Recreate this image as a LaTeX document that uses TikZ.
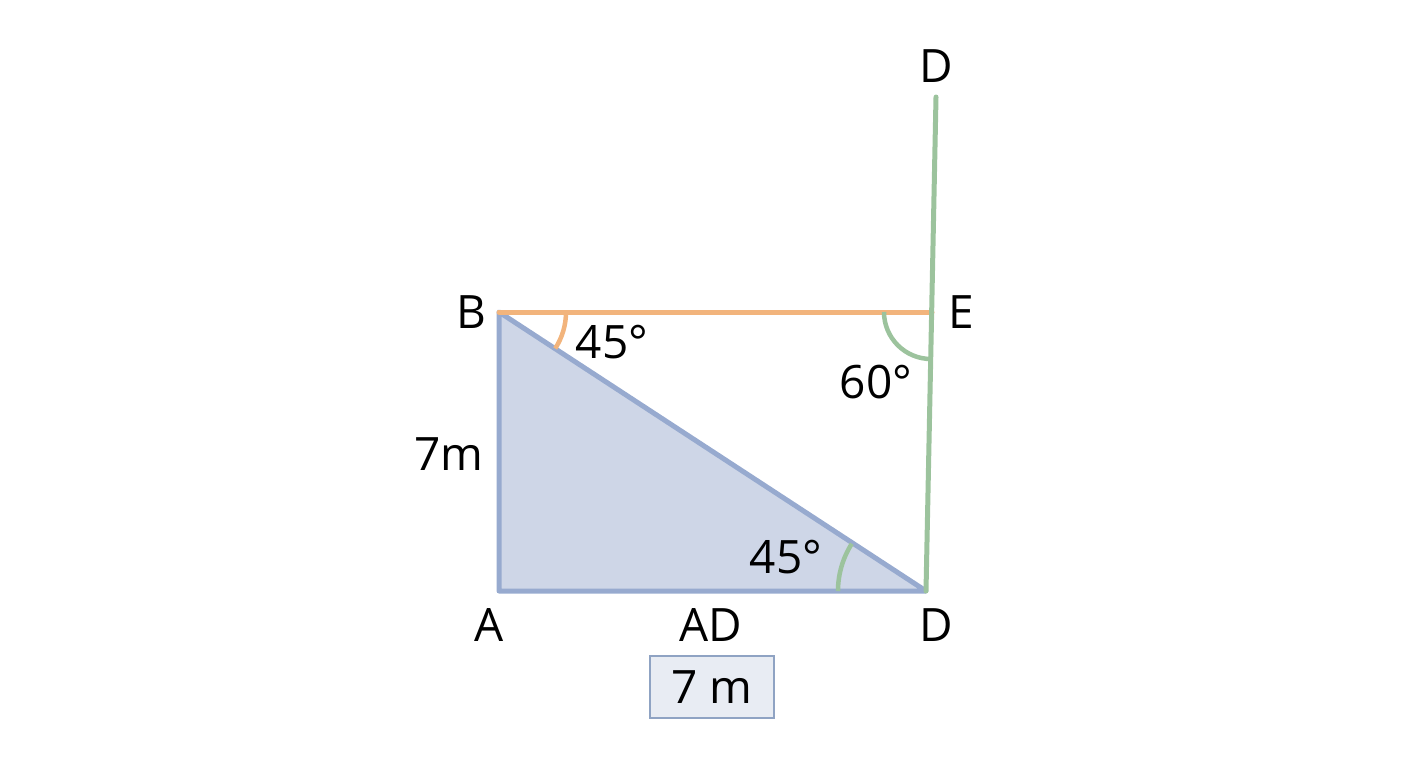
\documentclass[tikz,border=0pt]{standalone}
\usepackage{fontspec}
\setmainfont{Open Sans}
\definecolor{triFill}{HTML}{CED6E7}
\definecolor{triLine}{HTML}{97AACF}
\definecolor{orangeL}{HTML}{F2B47C}
\definecolor{greenL}{HTML}{9CC39D}
\definecolor{boxFill}{HTML}{E8ECF3}
\definecolor{boxLine}{HTML}{8FA3C3}
\begin{document}
\begin{tikzpicture}[x=1pt,y=-1pt,
  lbl/.style={font=\fontsize{46}{49}\selectfont, inner sep=0pt, text=black},
  seg/.style={line width=5pt, line cap=round, line join=round},
  arcline/.style={line width=4.5pt}]
\useasboundingbox (0,0) rectangle (1408,768);
\coordinate (A) at (499,591);
\coordinate (B) at (499,312);
\coordinate (D) at (926,591);
\coordinate (E) at (932,312);
\coordinate (Dt) at (936,97);
% triangle
\filldraw[seg, fill=triFill, draw=triLine] (A) -- (B) -- (D) -- cycle;
% orange line
\draw[seg, orangeL] (B) -- (E);
% green line
\draw[seg, greenL] (D) -- (Dt);
% arcs
\draw[arcline, orangeL] (566,312) arc[start angle=0, end angle=33, radius=67];
\draw[arcline, greenL] (884,312) arc[start angle=180, end angle=90, radius=47];
\draw[arcline, greenL] (838,591) arc[start angle=180, end angle=212.5, radius=88];
% labels
\node[lbl] (lDt) at (936,66) {D};
\node[lbl] (lB) at (471,312) {B};
\node[lbl] (lE) at (961,312) {E};
\node[lbl] (a1) at (612,342) {45°};
\node[lbl] (a2) at (876,382) {60°};
\node[lbl] (h) at (449,454) {7m};
\node[lbl] (a3) at (786,557) {45°};
\node[lbl] (lA) at (489,625) {A};
\node[lbl] (lAD) at (711,625) {AD};
\node[lbl] (lD) at (936,625) {D};
\node[draw=boxLine, fill=boxFill, line width=1.5pt, minimum width=124pt, minimum height=62pt, inner sep=0pt, font=\fontsize{46}{49}\selectfont] (box) at (712,687) {7 m};
\end{tikzpicture}
\end{document}
